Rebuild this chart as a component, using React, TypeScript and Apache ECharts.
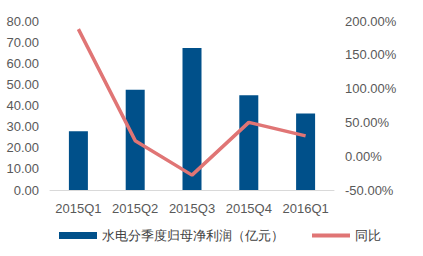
import React, { useEffect, useRef } from "react";
import * as echarts from "echarts";

const categories = ["2015Q1", "2015Q2", "2015Q3", "2015Q4", "2016Q1"];
const profitValues = [27.8, 47.5, 67.2, 44.8, 36.2];
const yoyValues = [188, 23, -28, 50, 30];
const barName = "水电分季度归母净利润（亿元）";
const lineName = "同比";

export default function App() {
  const ref = useRef<HTMLDivElement>(null);
  useEffect(() => {
    if (!ref.current) return;
    const chart = echarts.init(ref.current, undefined, { renderer: "svg" });
    const font = "'Liberation Sans', Arial, sans-serif";
    chart.setOption({
      animation: false,
      textStyle: { fontFamily: font },
      grid: { left: 50, right: 89, top: 21, bottom: 66 },
      legend: [
        {
          data: [{ name: barName, icon: "rect" }],
          left: 59,
          top: 229,
          padding: 0,
          itemWidth: 38,
          itemHeight: 7,
          textStyle: { fontSize: 13, color: "#404040", fontFamily: font },
        },
        {
          data: [{ name: lineName, icon: "rect" }],
          left: 312,
          top: 229,
          padding: 0,
          itemWidth: 38,
          itemHeight: 4,
          textStyle: { fontSize: 13, color: "#404040", fontFamily: font },
        },
      ],
      xAxis: {
        type: "category",
        data: categories,
        axisLine: { lineStyle: { color: "#D9D9D9", width: 1 } },
        axisTick: { show: false },
        axisLabel: { fontSize: 13, color: "#595959", margin: 12, fontFamily: font, interval: 0 },
      },
      yAxis: [
        {
          type: "value",
          min: 0,
          max: 80,
          interval: 10,
          axisLine: { show: false },
          axisTick: { show: false },
          splitLine: { show: false },
          axisLabel: {
            fontSize: 13,
            color: "#595959",
            margin: 11,
            fontFamily: font,
            formatter: (v: number) => v.toFixed(2),
          },
        },
        {
          type: "value",
          min: -50,
          max: 200,
          interval: 50,
          axisLine: { show: false },
          axisTick: { show: false },
          splitLine: { show: false },
          axisLabel: {
            fontSize: 13,
            color: "#595959",
            margin: 11,
            fontFamily: font,
            formatter: (v: number) => v.toFixed(2) + "%",
          },
        },
      ],
      series: [
        {
          name: barName,
          type: "bar",
          data: profitValues,
          barWidth: 19,
          itemStyle: { color: "#00508A" },
        },
        {
          name: lineName,
          type: "line",
          yAxisIndex: 1,
          data: yoyValues,
          symbol: "none",
          lineStyle: { color: "#E07575", width: 3.5 },
          itemStyle: { color: "#E07575" },
        },
      ],
    });
    return () => chart.dispose();
  }, []);
  return <div ref={ref} style={{ width: 423, height: 256, position: "absolute", left: 0, top: 0 }} />;
}
